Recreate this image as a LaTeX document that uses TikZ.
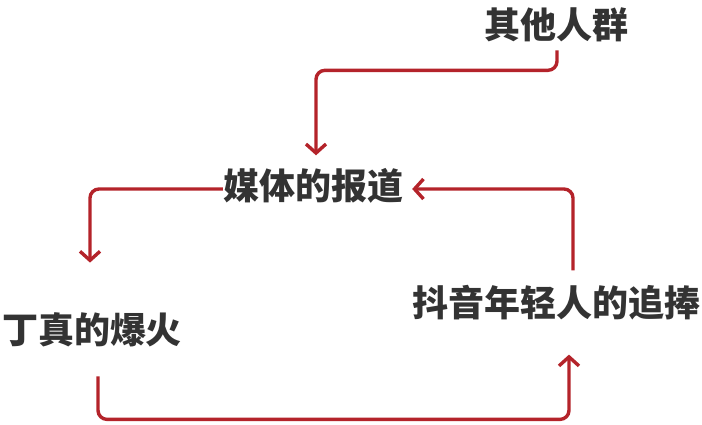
\documentclass[tikz,border=0pt]{standalone}
\usepackage{fontspec}
\usepackage{xcolor}
\usepackage{tikz}
\usetikzlibrary{arrows.meta}
\newfontfamily\cjk{Noto Sans CJK SC}
\definecolor{loopred}{RGB}{180,35,42}
\definecolor{txtgray}{RGB}{51,51,51}
\tikzset{
  phrase/.style={inner sep=0pt, text=txtgray, font=\cjk\bfseries\fontsize{36}{40}\selectfont},
  flow/.style={-{Straight Barb[length=9pt,width=20pt]}, line width=3.4pt, draw=loopred, rounded corners=9pt}
}

\begin{document}
\begin{tikzpicture}[x=1pt, y=1pt]
  \useasboundingbox (0,0) rectangle (702,424);
  \node[phrase] (others) at (556,399) {其他人群};
  \node[phrase] (media) at (313,238) {媒体的报道};
  \node[phrase] (dingzhen) at (92,94) {丁真的爆火};
  \node[phrase] (douyin) at (556,121) {抖音年轻人的追捧};
  \draw[flow, shorten <=8pt, shorten >=13pt] ([xshift=1]others.south) -- ++(0,-28) -| ([xshift=3]media.north);
  \draw[flow, shorten >=50pt] ([yshift=-3]media.west) -| ([xshift=-2]dingzhen.north);
  \draw[flow, shorten <=29pt, shorten >=34pt] ([xshift=6]dingzhen.south) -- ++(0,-72) -| ([xshift=13]douyin.south);
  \draw[flow, shorten <=15pt, shorten >=9pt] ([xshift=17]douyin.north) |- ([yshift=-3]media.east);
\end{tikzpicture}
\end{document}
